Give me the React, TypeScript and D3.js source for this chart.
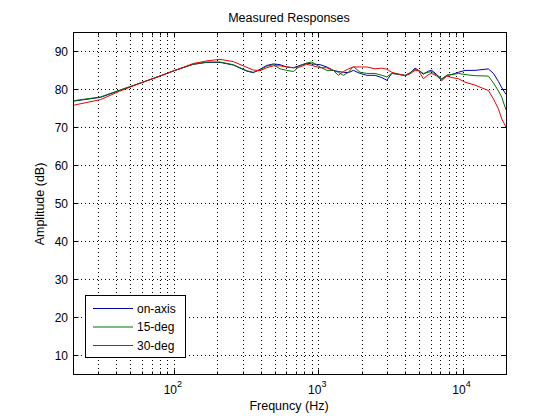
import React from "react";
import * as d3 from "d3";

// frequencies (Hz) of the sampled points
const freqs = [
  20, 31, 42, 58, 80, 100, 136, 169, 209, 258, 320, 355, 395, 440, 489, 544,
  605, 673, 748, 833, 902, 1030, 1146, 1274, 1379, 1494, 1618, 1752, 1950,
  2170, 2476, 2756, 2986, 3234, 3592, 3998, 4330, 4690, 4944, 5354, 5800,
  6120, 6630, 7180, 7778, 8424, 9358, 10414, 12218, 15104, 16358, 17718,
  18704, 20000,
];

const onAxis = [
  76.8, 77.8, 79.6, 81.5, 83.4, 84.8, 86.5, 87.0, 87.0, 86.3, 84.7, 84.3,
  85.2, 86.2, 86.6, 86.4, 85.8, 85.6, 86.2, 86.8, 86.6, 86.4, 85.8, 84.9,
  84.6, 84.4, 84.3, 84.9, 84.1, 83.6, 83.6, 83.0, 82.3, 84.1, 83.9, 83.6,
  84.2, 85.5, 84.9, 83.9, 84.7, 84.9, 83.8, 82.5, 83.6, 83.8, 84.4, 84.9,
  84.9, 85.3, 84.1, 82.0, 80.3, 78.6,
];

const deg15 = [
  76.9, 77.9, 79.7, 81.5, 83.4, 84.8, 86.5, 87.1, 87.1, 86.4, 84.8, 84.4,
  85.0, 86.0, 86.4, 85.3, 84.9, 84.6, 86.1, 86.8, 87.1, 85.8, 84.9, 84.9,
  84.4, 83.6, 84.4, 85.9, 84.4, 84.1, 84.1, 83.6, 83.2, 84.1, 83.9, 83.5,
  84.3, 85.2, 84.9, 84.1, 84.4, 84.6, 83.6, 82.7, 83.6, 83.8, 84.1, 83.8,
  83.5, 83.4, 81.6, 79.5, 77.8, 74.5,
];

const deg30 = [
  75.7, 77.2, 79.4, 81.5, 83.4, 84.8, 86.7, 87.4, 87.8, 87.2, 85.7, 85.0,
  84.8, 85.6, 86.1, 86.1, 85.8, 85.6, 85.8, 86.5, 86.2, 85.6, 85.6, 84.9,
  83.6, 84.6, 85.3, 85.8, 85.8, 85.8, 85.3, 85.5, 85.2, 84.4, 83.9, 83.5,
  84.0, 84.9, 84.9, 82.7, 83.8, 84.1, 83.4, 82.2, 83.4, 83.0, 82.7, 81.8,
  81.0, 79.6, 77.4, 74.8, 72.1, 70.0,
];

const seriesNames = ["on-axis", "15-deg", "30-deg"];
const seriesColors = ["#0000a8", "#007400", "#ee0000"];
const yTicks = [10, 20, 30, 40, 50, 60, 70, 80, 90];
const xMajor = [100, 1000, 10000];
const xExp = ["2", "3", "4"];

const W = 560;
const H = 420;
const L = 73;
const R = 506;
const T = 32;
const B = 374;
const font = "Helvetica, Arial, 'Liberation Sans', sans-serif";

const App: React.FC = () => {
  const x = d3.scaleLog().domain([20, 20000]).range([L, R]);
  const y = d3.scaleLinear().domain([5, 95]).range([B, T]);

  // minor grid positions: 2..9 x each decade
  const xMinor: number[] = [];
  for (const d of [10, 100, 1000, 10000]) {
    for (let k = 1; k < 10; k++) {
      const v = d * k;
      if (v > 20 && v < 20000 && !xMajor.includes(v)) xMinor.push(v);
    }
  }
  const xAll = [...xMinor, ...xMajor];
  const px = (v: number) => Math.round(x(v)) + 0.5;
  const py = (v: number) => Math.round(y(v)) + 0.5;

  const series = [onAxis, deg15, deg30];
  const line = d3
    .line<number>()
    .x((_, i) => x(freqs[i]))
    .y((d) => y(d));

  return (
    <svg
      width={W}
      height={H}
      style={{ position: "absolute", left: 0, top: 0, background: "#fff" }}
      fontFamily={font}
    >
      <rect x={0} y={0} width={W} height={H} fill="#fff" />
      {/* grid */}
      <g stroke="#000" strokeWidth={1} strokeDasharray="1,3">
        {xAll.map((v) => (
          <line key={"gx" + v} x1={px(v)} x2={px(v)} y1={T} y2={B} />
        ))}
        {yTicks.map((v) => (
          <line key={"gy" + v} x1={L} x2={R} y1={py(v)} y2={py(v)} />
        ))}
      </g>
      {/* ticks */}
      <g stroke="#000" strokeWidth={1}>
        {xAll.map((v) => {
          const len = xMajor.includes(v) ? 5 : 3;
          return (
            <g key={"tx" + v}>
              <line x1={px(v)} x2={px(v)} y1={B + 0.5} y2={B + 0.5 - len} />
              <line x1={px(v)} x2={px(v)} y1={T + 0.5} y2={T + 0.5 + len} />
            </g>
          );
        })}
        {yTicks.map((v) => (
          <g key={"ty" + v}>
            <line x1={L + 0.5} x2={L + 5.5} y1={py(v)} y2={py(v)} />
            <line x1={R + 0.5} x2={R - 4.5} y1={py(v)} y2={py(v)} />
          </g>
        ))}
      </g>
      {/* data */}
      <g fill="none" strokeWidth={1}>
        {series.map((s, i) => (
          <path key={seriesNames[i]} d={line(s) || ""} stroke={seriesColors[i]} />
        ))}
      </g>
      {/* box */}
      <rect
        x={L + 0.5}
        y={T + 0.5}
        width={R - L}
        height={B - T}
        fill="none"
        stroke="#000"
      />
      {/* y tick labels */}
      {yTicks.map((v) => (
        <text
          key={"ly" + v}
          x={L - 5}
          y={y(v) + 4.5}
          textAnchor="end"
          fontSize={12}
        >
          {v}
        </text>
      ))}
      {/* x tick labels */}
      {xMajor.map((v, i) => (
        <text key={"lx" + v} x={x(v) - 1} y={394} textAnchor="middle" fontSize={12}>
          10
          <tspan dy={-7} fontSize={9}>
            {xExp[i]}
          </tspan>
        </text>
      ))}
      <text x={289} y={22} textAnchor="middle" fontSize={12.5}>
        Measured Responses
      </text>
      <text x={289} y={410} textAnchor="middle" fontSize={12.5}>
        Frequncy (Hz)
      </text>
      <text
        transform={`translate(44,${(T + B) / 2 + 1}) rotate(-90)`}
        textAnchor="middle"
        fontSize={12.5}
      >
        Amplitude (dB)
      </text>
      {/* legend */}
      <g>
        <rect x={85.5} y={295.5} width={100} height={62} fill="#fff" stroke="#000" />
        {seriesNames.map((n, i) => (
          <g key={"lg" + n}>
            <line
              x1={93}
              x2={133}
              y1={308.5 + i * 18.5}
              y2={308.5 + i * 18.5}
              stroke={seriesColors[i]}
            />
            <text x={137} y={312.5 + i * 18.5} fontSize={12}>
              {n}
            </text>
          </g>
        ))}
      </g>
    </svg>
  );
};

export default App;
